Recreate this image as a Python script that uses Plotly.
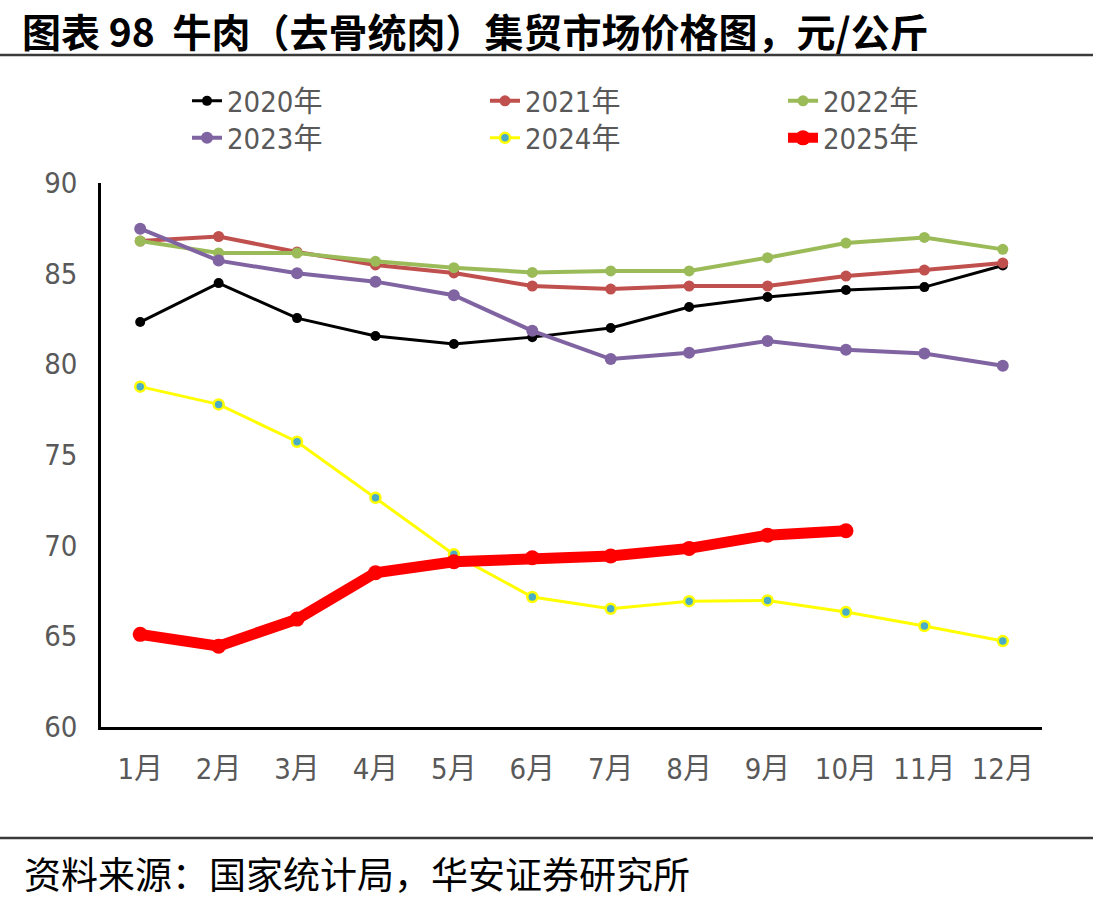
import plotly.graph_objects as go

months = ["1月", "2月", "3月", "4月", "5月", "6月", "7月", "8月", "9月", "10月", "11月", "12月"]
y2020 = [82.33, 84.48, 82.55, 81.56, 81.12, 81.50, 82.00, 83.16, 83.71, 84.10, 84.26, 85.45]
y2021 = [86.80, 87.05, 86.20, 85.48, 85.04, 84.32, 84.15, 84.32, 84.32, 84.87, 85.20, 85.59]
y2022 = [86.80, 86.14, 86.14, 85.68, 85.33, 85.07, 85.15, 85.15, 85.88, 86.69, 87.00, 86.34]
y2023 = [87.48, 85.72, 85.02, 84.56, 83.81, 81.85, 80.29, 80.64, 81.29, 80.80, 80.60, 79.92]
y2024 = [78.77, 77.79, 75.73, 72.64, 69.52, 67.17, 66.52, 66.94, 66.98, 66.34, 65.57, 64.74]
y2025 = [65.11, 64.46, 65.95, 68.51, 69.11, 69.33, 69.43, 69.85, 70.58, 70.82]

title_text = "图表 98  牛肉（去骨统肉）集贸市场价格图，元/公斤"
source_text = "资料来源：国家统计局，华安证券研究所"

W, H = 1093, 905
L, R, T, B = 101, 51, 183, 178
pw, ph = W - L - R, H - T - B

def px_x(p):
    return (p - L) / pw

def px_y(p):
    return (H - B - p) / ph

LAT = "Liberation Sans Narrow, DejaVu Sans Condensed, Noto Sans CJK SC, sans-serif"
CJK = "Noto Sans CJK SC, sans-serif"
GRAY = "#595959"

fig = go.Figure()

series = [
    ("2020年", y2020, "#000000", 3, dict(size=10, color="#000000"), "legend"),
    ("2021年", y2021, "#C0504D", 4, dict(size=11, color="#C0504D"), "legend"),
    ("2022年", y2022, "#9BBB59", 4, dict(size=11, color="#9BBB59"), "legend"),
    ("2023年", y2023, "#8064A2", 4, dict(size=12, color="#8064A2"), "legend2"),
    ("2024年", y2024, "#FFFF00", 3, dict(size=10, color="#4BACC6", line=dict(color="#FFFF00", width=2.5)), "legend2"),
    ("2025年", y2025, "#FF0000", 11, dict(size=15, color="#FF0000"), "legend2"),
]

for name, ys, col, lw, mk, lg in series:
    fig.add_trace(go.Scatter(
        x=months[:len(ys)], y=ys, name=name, mode="lines+markers",
        line=dict(color=col, width=lw), marker=mk, legend=lg,
    ))

legend_common = dict(
    orientation="h", x=px_x(187), xanchor="left", yanchor="middle",
    entrywidth=253, entrywidthmode="pixels", traceorder="normal",
    font=dict(family=LAT, size=29, color=GRAY), bgcolor="rgba(0,0,0,0)",
    itemsizing="trace",
)

fig.update_layout(
    width=W, height=H,
    margin=dict(l=L, r=R, t=T, b=B),
    paper_bgcolor="white", plot_bgcolor="white",
    showlegend=True,
    legend=dict(legend_common, y=px_y(101)),
    legend2=dict(legend_common, y=px_y(138)),
    xaxis=dict(
        type="category", categoryorder="array", categoryarray=months,
        range=[-0.5, 11.5], showgrid=False, zeroline=False,
        showline=True, linecolor="#000000", linewidth=3, ticks="",
        tickfont=dict(family=LAT, size=29, color=GRAY), ticklabelstandoff=14,
    ),
    yaxis=dict(
        range=[60, 90], dtick=5, showgrid=False, zeroline=False,
        showline=True, linecolor="#000000", linewidth=2.5, ticks="",
        tickfont=dict(family=LAT, size=29, color=GRAY), ticklabelstandoff=15,
    ),
    shapes=[
        dict(type="line", xref="paper", yref="paper", x0=px_x(0), x1=px_x(W),
             y0=px_y(55), y1=px_y(55), line=dict(color="#3a3a3a", width=2.5)),
        dict(type="line", xref="paper", yref="paper", x0=px_x(0), x1=px_x(W),
             y0=px_y(838), y1=px_y(838), line=dict(color="#3a3a3a", width=2.5)),
    ],
    annotations=[
        dict(text="<b>" + title_text + "</b>", xref="paper", yref="paper",
             x=px_x(20), y=px_y(30), xanchor="left", yanchor="middle", showarrow=False,
             font=dict(family=CJK, size=39, color="#000000")),
        dict(text=source_text, xref="paper", yref="paper", x=px_x(22), y=px_y(873),
             xanchor="left", yanchor="middle", showarrow=False,
             font=dict(family=CJK, size=37, color="#000000")),
    ],
)

fig.write_html("out.html")
